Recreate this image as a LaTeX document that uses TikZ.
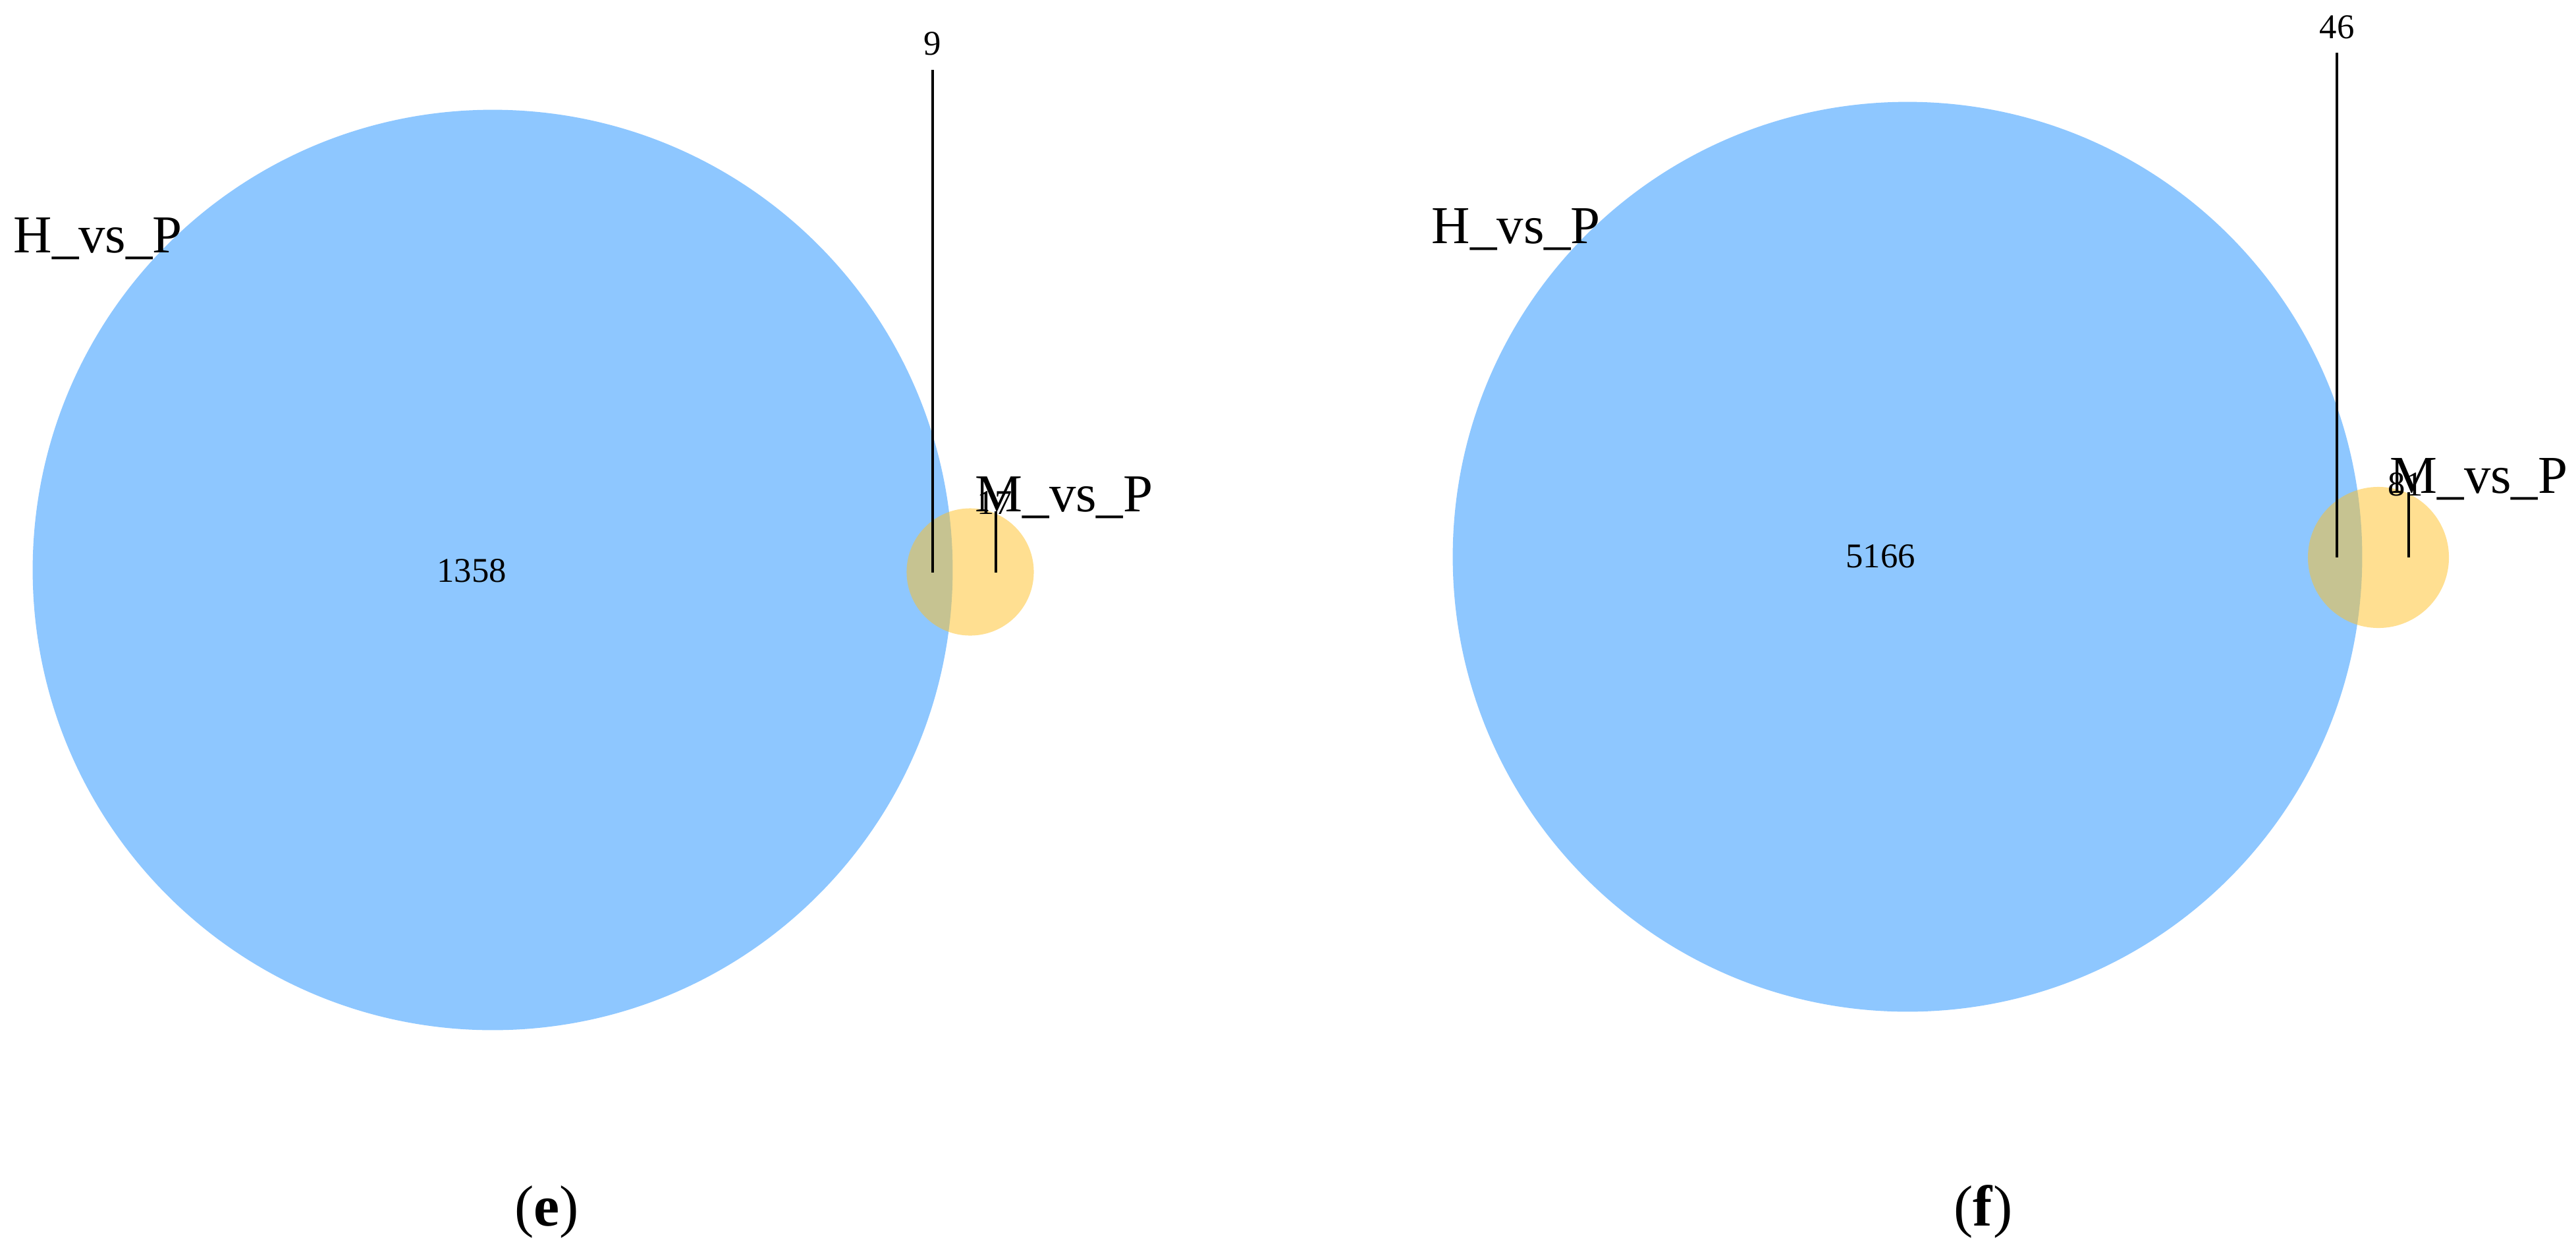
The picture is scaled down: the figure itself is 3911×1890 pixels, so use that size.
\documentclass[tikz,border=0pt]{standalone}
\usepackage{fontspec}
\setmainfont{Liberation Serif}
\definecolor{vblue}{RGB}{30,144,255}
\definecolor{vyellow}{RGB}{255,193,37}
\tikzset{
  bigset/.style={circle, inner sep=0pt, fill=vblue, fill opacity=0.5, draw=none},
  smallset/.style={circle, inner sep=0pt, fill=vyellow, fill opacity=0.5, draw=none},
  setname/.style={anchor=base west, inner sep=0pt, font=\fontsize{23}{23}\selectfont},
  countlbl/.style={anchor=base, inner sep=0pt, font=\fontsize{15}{15}\selectfont},
  caplbl/.style={anchor=base, inner sep=0pt, font=\fontsize{25}{25}\selectfont},
  leader/.style={draw=black, line width=1.1pt}
}
\begin{document}
\begin{tikzpicture}[x=0.01cm, y=-0.01cm]
\useasboundingbox (0,0) rectangle (3911,1890);
\fill[white] (0,0) rectangle (3911,1890);
% ---------- panel (e)
\node[bigset, minimum size=13.96cm] (eH) at (748,865) {};
\node[smallset, minimum size=1.93cm] (eM) at (1473,868) {};
\node[countlbl] (e1358) at (716,883) {1358};
\node[countlbl] (e9) at (1416,83) {9};
\node[countlbl] (e17) at (1510,780) {17};
\node[setname] (eHname) at (20,383) {H\_vs\_P};
\node[setname] (eMname) at (1480,776) {M\_vs\_P};
\coordinate (e-t1) at (1416,106);
\coordinate (e-b1) at (1416,869);
\coordinate (e-t2) at (1512,776);
\coordinate (e-b2) at (1512,869);
\draw[leader] (e-t1) -- (e-b1);
\draw[leader] (e-t2) -- (e-b2);
\node[caplbl] (ecap) at (830,1860) {(\textbf{e})};
% ---------- panel (f)
\node[bigset, minimum size=13.80cm] (fH) at (2896,845) {};
\node[smallset, minimum size=2.14cm] (fM) at (3611,846) {};
\node[countlbl] (f5166) at (2855,861) {5166};
\node[countlbl] (f46) at (3548,58) {46};
\node[countlbl] (f81) at (3652,752) {81};
\node[setname] (fHname) at (2173,369) {H\_vs\_P};
\node[setname] (fMname) at (3628,748) {M\_vs\_P};
\coordinate (f-t1) at (3548,80);
\coordinate (f-b1) at (3548,846);
\coordinate (f-t2) at (3657,747);
\coordinate (f-b2) at (3657,846);
\draw[leader] (f-t1) -- (f-b1);
\draw[leader] (f-t2) -- (f-b2);
\node[caplbl] (fcap) at (3011,1860) {(\textbf{f})};
\end{tikzpicture}
\end{document}
